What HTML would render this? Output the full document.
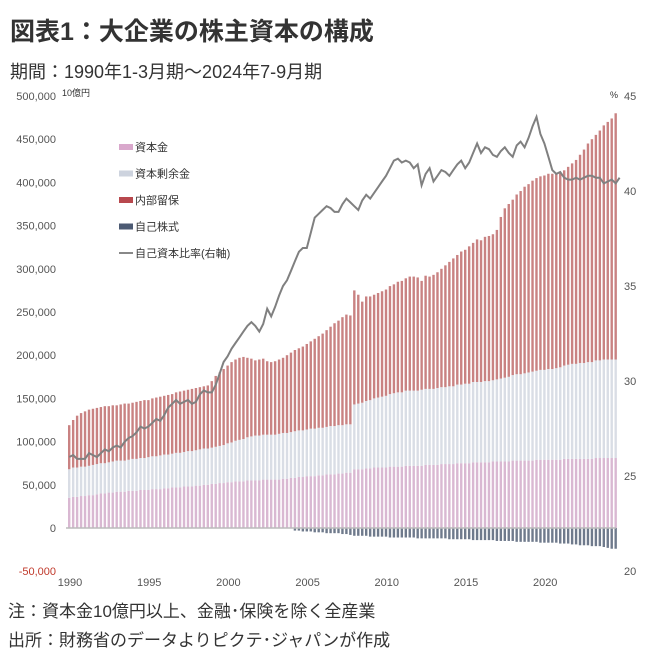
<!DOCTYPE html>
<html><head><meta charset="utf-8">
<style>
body{margin:0;background:#fff;width:646px;height:654px;overflow:hidden;font-family:"Liberation Sans","Noto Sans CJK JP",sans-serif;}
.t{position:absolute;color:#222;white-space:nowrap;}
</style></head>
<body>
<div class="t" style="left:10px;top:12px;font-size:25px;font-weight:bold;color:#333;">図表1：大企業の株主資本の構成</div>
<div class="t" style="left:10px;top:58px;font-size:18px;color:#333;">期間：1990年1-3月期～2024年7-9月期</div>
<svg id="c" width="646" height="654" style="position:absolute;left:0;top:0"></svg>
<div class="t" style="left:8px;top:597px;font-size:17px;color:#333;">注：資本金10億円以上、金融･保険を除く全産業</div>
<div class="t" style="left:8px;top:626px;font-size:17px;color:#333;">出所：財務省のデータよりピクテ･ジャパンが作成</div>
<script>
const years=[1990,1995,2000,2005,2010,2015,2020];
const leftTicks=[-50000,0,50000,100000,150000,200000,250000,300000,350000,400000,450000,500000];
const rightTicks=[20,25,30,35,40,45];
const totalTop=[119,125,130,133,135,137,138,139,140,141,141,142,142,143,144,144,145,146,147,148,148,150,151,152,153,154,155,157,158,159,160,161,162,163,164,165,170,176,180,184,188,192,195,197,198,197,196,194,195,196,193,192,193,195,197,200,203,206,208,210,213,216,219,222,225,229,233,237,240,244,247,246,275,270,262,268,268,270,272,274,276,280,282,285,286,289,291,291,290,286,292,291,293,296,300,304,308,312,316,320,322,326,330,334,333,337,338,340,345,360,370,375,380,386,390,395,398,402,405,407,408,410,410,411,412,414,418,422,426,432,438,445,450,455,460,466,470,474,480];
const capital=[35,36,36,37,37,38,38,39,40,40,41,41,42,42,42,43,43,43,44,44,44,45,45,45,46,46,47,47,47,48,48,48,49,49,50,50,51,51,52,52,53,53,54,54,54,55,55,55,55,56,56,56,56,56,57,57,58,58,59,59,60,60,60,61,61,62,62,62,63,63,64,64,68,68,68,69,69,70,70,70,70,71,71,71,71,72,72,72,72,72,73,73,73,73,74,74,74,74,75,75,75,75,76,76,76,76,76,77,77,77,77,77,78,78,78,78,78,78,79,79,79,79,79,79,79,80,80,80,80,80,80,80,80,81,81,81,81,81,81];
const surplus=[33,34,34,34,34,34,35,35,35,35,35,36,36,36,36,36,37,37,37,37,38,38,38,39,39,39,39,40,40,40,41,41,41,42,42,42,42,43,43,44,45,46,47,48,49,50,51,52,52,52,52,52,52,53,53,53,53,54,54,54,54,55,55,55,55,55,56,56,56,56,56,56,75,76,77,78,79,80,81,82,83,84,85,86,86,87,87,87,87,88,88,88,88,89,89,89,90,90,91,91,92,92,93,93,93,94,94,94,95,96,97,98,99,100,100,101,102,103,103,104,104,105,105,106,107,108,109,110,110,111,111,112,112,113,113,114,114,114,114];
const treasury=[0,0,0,0,0,0,0,0,0,0,0,0,0,0,0,0,0,0,0,0,0,0,0,0,0,0,0,0,0,0,0,0,0,0,0,0,0,0,0,0,0,0,0,0,0,0,0,0,0,0,0,0,0,0,0,0,0,-3,-3,-4,-4,-4,-5,-5,-5,-6,-6,-6,-6,-7,-7,-8,-9,-9,-9,-9,-10,-10,-10,-10,-10,-11,-11,-11,-11,-11,-11,-11,-12,-12,-12,-12,-12,-12,-12,-12,-13,-13,-13,-13,-13,-13,-14,-14,-14,-14,-14,-14,-15,-15,-15,-15,-15,-16,-16,-16,-16,-16,-16,-17,-17,-17,-17,-17,-18,-18,-18,-19,-19,-20,-20,-20,-21,-21,-21,-22,-23,-24,-24,-25,-25];
const ratio=[26.0,26.1,25.9,25.9,25.9,26.2,26.1,26.0,26.2,26.4,26.3,26.5,26.6,26.5,26.8,27.0,27.1,27.3,27.6,27.5,27.6,27.8,28.0,27.9,28.2,28.6,28.8,29.0,28.8,28.9,29.0,28.8,28.9,29.3,29.5,29.4,29.4,29.8,30.4,31.0,31.3,31.7,32.0,32.3,32.6,32.9,33.1,32.9,32.6,33.0,33.8,33.4,33.9,34.5,35.0,35.3,35.8,36.3,36.8,37.0,37.0,37.8,38.6,38.8,39.0,39.2,39.1,38.9,38.9,39.3,39.6,39.4,39.2,39.0,39.5,39.8,39.6,39.9,40.2,40.5,40.8,41.2,41.6,41.7,41.5,41.6,41.5,41.2,41.4,40.3,40.9,41.2,40.5,40.8,41.1,41.0,40.8,41.1,41.4,41.6,41.2,41.5,42.0,42.5,42.0,42.3,42.2,41.9,41.8,42.1,42.3,42.0,41.8,42.4,42.6,42.3,42.8,43.4,43.9,43.0,42.5,41.8,41.1,40.9,41.0,40.7,40.6,40.6,40.7,40.6,40.7,40.8,40.8,40.7,40.7,40.4,40.5,40.6,40.4,40.7];

const svg=document.getElementById('c');
const NS='http://www.w3.org/2000/svg';
const X0=68,DX=3.96,Y0=528,PXK=432/500;
const yL=v=>Y0-v*PXK/1000;
const yR=v=>571-(v-20)*19;
const xB=i=>X0+i*DX;
function mk(tag,attrs){const e=document.createElementNS(NS,tag);for(const k in attrs)e.setAttribute(k,attrs[k]);svg.appendChild(e);return e;}

leftTicks.forEach(v=>{
  const t=mk('text',{x:56,y:yL(v)+4,'text-anchor':'end','font-size':11,fill:v<0?'#c0392b':'#555','font-family':'Liberation Sans, sans-serif'});
  t.textContent=v.toLocaleString('en-US');
  
  
});
rightTicks.forEach(v=>{
  const t=mk('text',{x:624,y:yR(v)+4,'font-size':11,fill:'#555','font-family':'Liberation Sans, sans-serif'});
  t.textContent=v;
  
  
});
years.forEach(y=>{
  const t=mk('text',{x:xB((y-1990)*4)+2,y:586,'text-anchor':'middle','font-size':11,fill:'#555','font-family':'Liberation Sans, sans-serif'});
  t.textContent=y;
  
  
});
const u=mk('text',{x:62,y:96,'font-size':9,fill:'#333','font-family':'Liberation Sans, Noto Sans CJK JP, sans-serif'});u.textContent='10億円';


const p=mk('text',{x:610,y:98,'font-size':9,fill:'#333','font-family':'Liberation Sans, Noto Sans CJK JP, sans-serif'});p.textContent='%';



const W=2.4;
totalTop.forEach((tot,i)=>{
  const x=xB(i);
  const c=capital[i],s=surplus[i];
  const r1=mk('rect',{x:x,y:yL(c*1000),width:W,height:c*PXK,fill:'#d9b8d2'});
  
  
  const r2=mk('rect',{x:x,y:yL((c+s)*1000),width:W,height:s*PXK,fill:'#d9dde5'});
  
  
  const re=Math.max(0,tot-c-s);
  const r3=mk('rect',{x:x,y:yL(tot*1000),width:W,height:re*PXK,fill:'#c98282'});
  
  
  if(treasury[i]<0){
    const r4=mk('rect',{x:x,y:Y0,width:W,height:-treasury[i]*PXK,fill:'#6f7a8c'});
    
    
  }
});
const zl=mk('line',{x1:66,x2:616,y1:Y0,y2:Y0,stroke:'#bbb','stroke-width':1.5});


const pts=ratio.map((v,i)=>(xB(i)+1.2).toFixed(1)+','+yR(v).toFixed(1)).join(' ');
const pl=mk('polyline',{points:pts,fill:'none',stroke:'#808080','stroke-width':2});



const legend=[['資本金','#d9a8cc','rect'],['資本剰余金','#cdd3de','rect'],['内部留保','#b8484e','rect'],['自己株式','#4c5a73','rect'],['自己資本比率(右軸)','#888','line']];
legend.forEach((l,k)=>{
  const y=147+k*26.5;
  let s;
  if(l[2]==='rect'){s=mk('rect',{x:119,y:y-3,width:14,height:6,fill:l[1]});}
  else{s=mk('line',{x1:119,x2:133,y1:y,y2:y,stroke:l[1],'stroke-width':2});}
  
  
  const t=mk('text',{x:135,y:y+4,'font-size':11,fill:'#333','font-family':'Liberation Sans, Noto Sans CJK JP, sans-serif'});
  t.textContent=l[0];
  
  
});
</script>
</body></html>
